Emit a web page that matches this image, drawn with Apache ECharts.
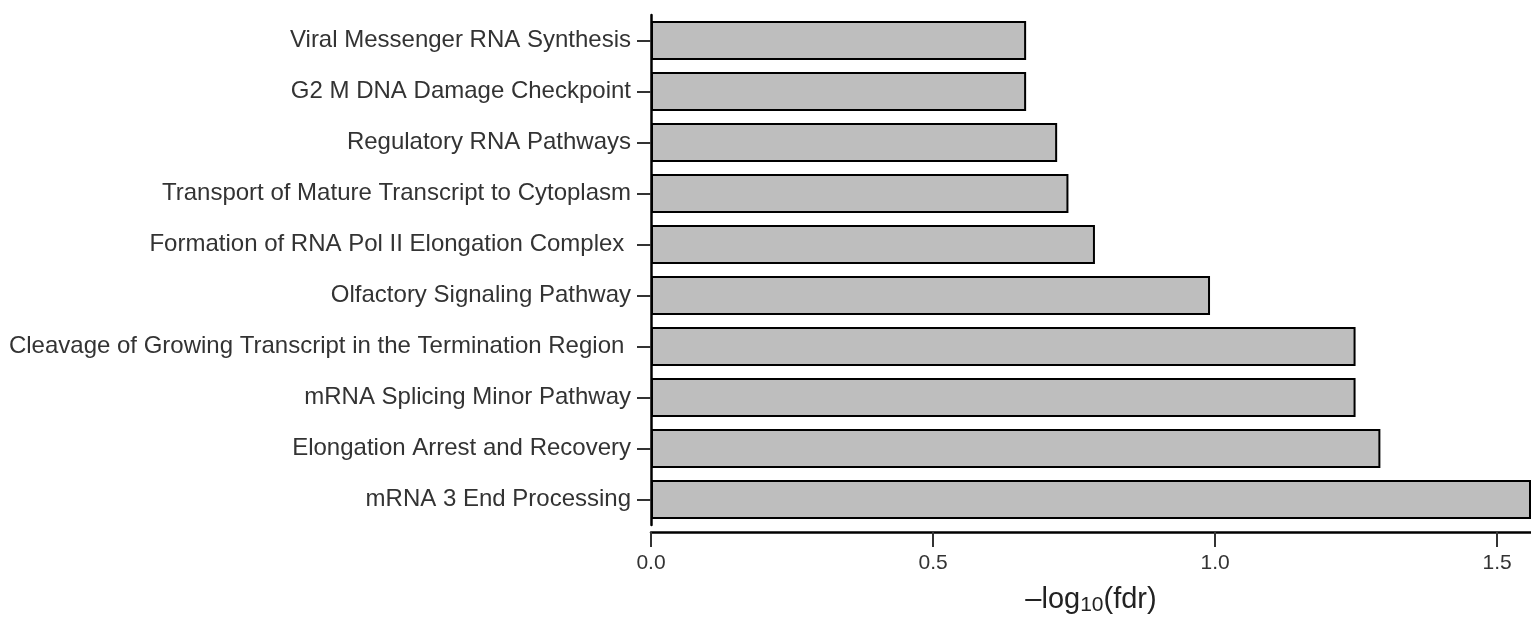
<!DOCTYPE html>
<html>
<head>
<meta charset="utf-8">
<script src="https://cdn.jsdelivr.net/npm/echarts@6/dist/echarts.min.js"></script>
<style>
  html, body { margin: 0; padding: 0; background: #fff; }
  #main { width: 1531px; height: 621px; }
</style>
</head>
<body>
<div id="main"></div>
<script>
// pathways, top to bottom as in the figure
var pathways = [
  'Viral Messenger RNA Synthesis',
  'G2 M DNA Damage Checkpoint',
  'Regulatory RNA Pathways',
  'Transport of Mature Transcript to Cytoplasm',
  'Formation of RNA Pol II Elongation Complex ',
  'Olfactory Signaling Pathway',
  'Cleavage of Growing Transcript in the Termination Region ',
  'mRNA Splicing Minor Pathway',
  'Elongation Arrest and Recovery',
  'mRNA 3 End Processing'
];
var negLogFdr = [0.665, 0.665, 0.720, 0.740, 0.787, 0.991, 1.249, 1.249, 1.293, 1.560];
var xTicks = [0, 0.5, 1.0, 1.5];

var font = 'Liberation Sans, Arial, sans-serif';
var chart = echarts.init(document.getElementById('main'));

var option = {
  backgroundColor: '#fff',
  animation: false,
  grid: {
    left: 651,
    right: 0,
    top: 15,
    bottom: 93
  },
  xAxis: {
    type: 'value',
    min: 0,
    max: 1.56,
    offset: 7,
    splitLine: { show: false },
    axisLine: { show: true, lineStyle: { color: '#000', width: 2.5 } },
    axisTick: {
      show: true,
      length: 15,
      customValues: xTicks,
      lineStyle: { color: '#333', width: 2 }
    },
    axisLabel: {
      customValues: xTicks,
      formatter: function (v) { return v.toFixed(1); },
      color: '#333',
      fontFamily: font,
      fontSize: 21,
      margin: 21
    },
    name: '{a|\u2013log}{s|10}{a|(fdr)}',
    nameLocation: 'middle',
    nameGap: 51,
    nameTextStyle: {
      rich: {
        a: { fontSize: 29, color: '#222', fontFamily: font },
        s: { fontSize: 21, color: '#222', fontFamily: font, verticalAlign: 'bottom', padding: [12, 0, 0, 0] }
      }
    }
  },
  yAxis: {
    type: 'category',
    inverse: true,
    data: pathways,
    axisLine: { show: true, lineStyle: { color: '#000', width: 2.5 } },
    axisTick: {
      show: true,
      alignWithLabel: true,
      length: 14,
      lineStyle: { color: '#333', width: 2 }
    },
    axisLabel: {
      color: '#333',
      fontFamily: font,
      fontSize: 24,
      margin: 20
    }
  },
  series: [{
    type: 'bar',
    data: negLogFdr,
    barCategoryGap: '24%',
    itemStyle: {
      color: '#bebebe',
      borderColor: '#000',
      borderWidth: 2
    }
  }]
};

chart.setOption(option);
</script>
</body>
</html>
